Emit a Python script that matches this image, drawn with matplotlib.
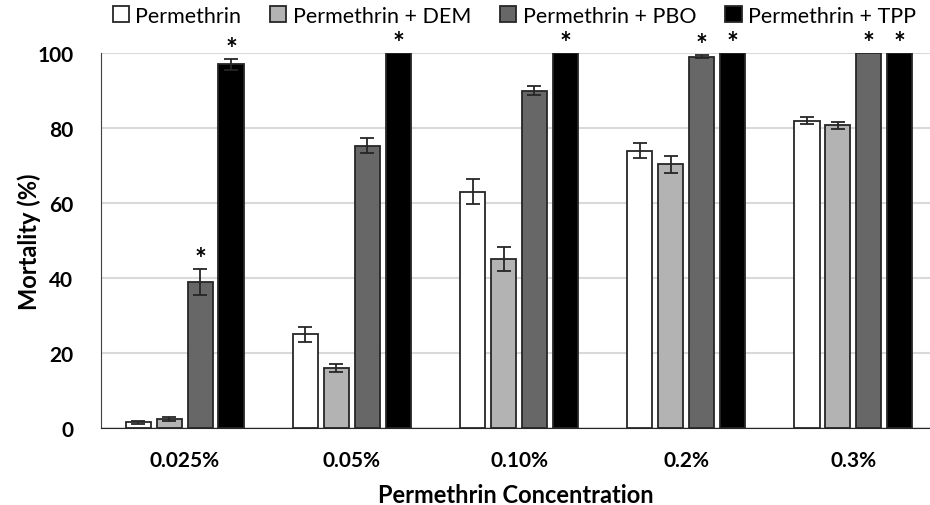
import matplotlib.pyplot as plt
import numpy as np

plt.rcParams['font.family'] = ['Lato', 'DejaVu Sans']

concentrations = ['0.025%', '0.05%', '0.10%', '0.2%', '0.3%']
series = ['Permethrin', 'Permethrin + DEM', 'Permethrin + PBO', 'Permethrin + TPP']

perm = [1.5, 25.0, 63.0, 74.0, 82.0]
perm_err = [0.3, 2.0, 3.3, 2.0, 1.0]
dem = [2.5, 16.0, 45.0, 70.3, 80.7]
dem_err = [0.5, 1.0, 3.2, 2.2, 1.0]
pbo = [39.0, 75.3, 90.0, 99.0, 100.0]
pbo_err = [3.5, 2.0, 1.2, 0.4, 0.0]
tpp = [97.0, 100.0, 100.0, 100.0, 100.0]
tpp_err = [1.5, 0.0, 0.0, 0.0, 0.0]

# significance markers (*)
perm_sig = [False] * 5
dem_sig = [False] * 5
pbo_sig = [True, False, False, True, True]
tpp_sig = [True, True, True, True, True]

values = [perm, dem, pbo, tpp]
errors = [perm_err, dem_err, pbo_err, tpp_err]
sigs = [perm_sig, dem_sig, pbo_sig, tpp_sig]
colors = ['white', '#b3b3b3', '#676767', 'black']

fig = plt.figure(figsize=(9.3, 5.06), dpi=100)
ax = fig.add_axes([101 / 930, 1 - 429 / 506, 1 - 101 / 930, (429 - 54) / 506])

x = np.arange(len(concentrations))
width = 0.15
step = 0.185
for i in range(4):
    pos = x + (i - 1.5) * step
    ax.bar(pos, values[i], width, color=colors[i], edgecolor='#262626',
           linewidth=1.3, label=series[i], zorder=3)
    errs = np.array(errors[i])
    mask = errs > 0
    ax.errorbar(pos[mask], np.array(values[i])[mask], yerr=errs[mask], fmt='none',
                ecolor='#262626', elinewidth=1.3, capsize=5, capthick=1.3, zorder=4)
    for j in range(len(x)):
        if sigs[i][j]:
            ax.text(pos[j], values[i][j] + errors[i][j] - 0.8, '*', ha='center',
                    va='bottom', fontsize=20, fontweight='bold', clip_on=False)

ax.set_xlim(-0.5, 4.5 - 7 / 167)
ax.set_ylim(0, 100)
ax.set_yticks([0, 20, 40, 60, 80, 100])
ax.set_xticks(x)
ax.set_xticklabels(concentrations)
ax.yaxis.grid(True, color='#d9d9d9', linewidth=1.5, zorder=0)
ax.set_axisbelow(True)
for s in ['top', 'right']:
    ax.spines[s].set_visible(False)
ax.spines['left'].set_color('#404040')
ax.spines['bottom'].set_color('#262626')
ax.tick_params(axis='x', length=0, labelsize=15, pad=16)
ax.tick_params(axis='y', length=0, labelsize=15, pad=20)
for lab in ax.get_xticklabels() + ax.get_yticklabels():
    lab.set_fontweight('bold')
ax.set_ylabel('Mortality (%)', fontsize=17, fontweight='bold', labelpad=-3)
ax.set_xlabel('Permethrin Concentration', fontsize=17, fontweight='bold', labelpad=9)

fig.legend(loc='upper center', bbox_to_anchor=(0.553, 1.025), ncol=4, frameon=False,
           fontsize=15.5, handlelength=0.75, handleheight=0.75, handletextpad=0.3,
           columnspacing=1.35)

plt.savefig('out.png', dpi=100)
